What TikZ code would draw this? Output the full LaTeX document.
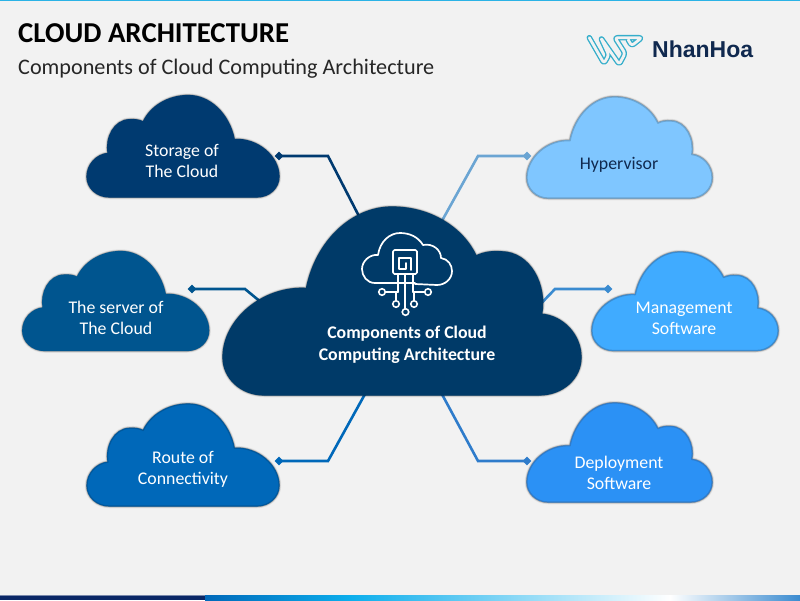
\documentclass[tikz,border=0pt]{standalone}
\usepackage{fontspec}
\setmainfont{Carlito}
\newfontfamily\logofont{Liberation Sans}
\usetikzlibrary{shapes.geometric}
\definecolor{pagebg}{HTML}{F2F2F2}
\definecolor{cStorage}{HTML}{003A70}
\definecolor{cServer}{HTML}{00558F}
\definecolor{cRoute}{HTML}{0068B9}
\definecolor{cCentre}{HTML}{003A68}
\definecolor{cHyper}{HTML}{7FC6FF}
\definecolor{cManage}{HTML}{40ABFF}
\definecolor{cDeploy}{HTML}{2B91F5}
\definecolor{lHyper}{HTML}{6BA5D3}
\definecolor{lManage}{HTML}{3A8BD0}
\definecolor{lDeploy}{HTML}{2F7CCB}
\definecolor{logoInk}{HTML}{10294F}
\definecolor{logoTeal}{HTML}{35AECB}
\definecolor{barNavy}{HTML}{0A2766}
\definecolor{barCyan}{HTML}{0CAEEC}
\definecolor{barTop}{HTML}{2BB3E6}
\newcommand\cloudoutline{(.118,1) .. controls (.05,1) and (0,.91) .. (0,.8)
  .. controls (0,.68) and (.05,.58) .. (.11,.57)
  .. controls (.095,.42) and (.14,.24) .. (.223,.238)
  .. controls (.25,.235) and (.27,.24) .. (.293,.26)
  .. controls (.33,.11) and (.42,0) .. (.528,0)
  .. controls (.64,0) and (.74,.18) .. (.767,.433)
  .. controls (.89,.42) and (1,.6) .. (1,.8)
  .. controls (1,.91) and (.95,1) .. (.885,1) -- cycle}
% #1 x of origin, #2 top, #3 signed width, #4 height, #5 fill, #6 border
\newcommand\cloudblob[6]{%
  \begin{scope}[shift={(#1,#2)},x=#3pt,y=-#4pt,line join=round]
    \draw[black,opacity=.06,line width=4.5pt] \cloudoutline;
    \draw[black,opacity=.14,line width=3pt] \cloudoutline;
    \draw[black,opacity=.25,line width=1.8pt] \cloudoutline;
    \draw[fill=#5,draw=#6,line width=1.2pt] \cloudoutline;
  \end{scope}}
\tikzset{
  conn/.style={line width=2.6pt,line join=miter},
  tipmark/.style={diamond,inner sep=0pt,minimum width=9pt,minimum height=9pt,draw=none},
  label/.style={align=center,text=white,font=\fontsize{17.8}{21}\selectfont,inner sep=0pt},
  iconline/.style={draw=white,line width=1.7pt,line cap=round,line join=round},
  icondot/.style={circle,draw=white,line width=1.6pt,minimum size=6.5pt,inner sep=0pt}
}
\begin{document}
\begin{tikzpicture}[x=1pt,y=-1pt]
\useasboundingbox (0,0) rectangle (800,600);
\fill[pagebg] (0,0) rectangle (800,600);
% top and bottom bars
\fill[barTop] (0,0) rectangle (800,1.3);
\fill[barNavy!55!white] (0,595) rectangle (205,596);
\fill[barNavy] (0,595.6) rectangle (205,600);
\fill[left color=cRoute,right color=barCyan] (205,595) rectangle (350,600);
\fill[left color=barCyan,right color=white] (350,595) rectangle (670,600);
\fill[left color=white,right color=lManage] (670,595) rectangle (800,600);
% titles
\node[anchor=base west,inner sep=0pt,font=\fontsize{28.8}{30}\selectfont\bfseries,text=black] (title) at (18,42) {CLOUD ARCHITECTURE};
\node[anchor=base west,inner sep=0pt,font=\fontsize{22.2}{24}\selectfont,text=black!85] (subtitle) at (18,74) {Components of Cloud Computing Architecture};
% logo
\draw[logoTeal,line width=5.5pt,rounded corners=2.5pt,line join=round,line cap=round]
  (589.3,37.7) -- (604,63.3) -- (608.7,55) -- (600.7,37.7) -- (619.3,64.3) -- (625,53.3) -- (615,37.7) -- (641.7,37.7) -- (631.7,45.7) -- (628.3,40);
\draw[pagebg,line width=2.8pt,rounded corners=2.5pt,line join=round,line cap=round]
  (589.3,37.7) -- (604,63.3) -- (608.7,55) -- (600.7,37.7) -- (619.3,64.3) -- (625,53.3) -- (615,37.7) -- (641.7,37.7) -- (631.7,45.7) -- (628.3,40);
\node[anchor=base west,inner sep=0pt,font=\logofont\bfseries\fontsize{23}{25}\selectfont,text=logoInk] (logo) at (652,57) {NhanHoa};
% connector way points
\coordinate (hubA) at (363,224);
\coordinate (bendA) at (328,156);
\coordinate (hubB) at (262,303);
\coordinate (bendB) at (245,289);
\coordinate (hubC) at (370,385);
\coordinate (bendC) at (328,461);
\coordinate (hubD) at (438,228);
\coordinate (bendD) at (478,156);
\coordinate (hubE) at (530,315);
\coordinate (bendE) at (555,289);
\coordinate (hubF) at (437,385);
\coordinate (bendF) at (478,461);
% outer clouds
\cloudblob{87}{95.5}{192}{101.5}{cStorage}{cStorage}
\cloudblob{22.7}{251.5}{186}{99}{cServer}{cServer}
\cloudblob{87}{404}{192}{102}{cRoute}{cRoute!85!black}
\cloudblob{712}{97}{-185}{101}{cHyper}{lHyper}
\cloudblob{778}{252}{-186}{98.5}{cManage}{lManage}
\cloudblob{712}{403}{-185}{99}{cDeploy}{lDeploy}
% connector ends
\node[tipmark,fill=cStorage] (tipA) at (279,156) {};
\node[tipmark,fill=cServer] (tipB) at (192,289) {};
\node[tipmark,fill=cRoute] (tipC) at (279,461) {};
\node[tipmark,fill=lHyper] (tipD) at (527,156) {};
\node[tipmark,fill=lManage] (tipE) at (608,289) {};
\node[tipmark,fill=lDeploy] (tipF) at (527,461) {};
% connectors
\draw[conn,draw=cStorage] (hubA) -- (bendA) -- (tipA.center);
\draw[conn,draw=cServer] (hubB) -- (bendB) -- (tipB.center);
\draw[conn,draw=cRoute] (hubC) -- (bendC) -- (tipC.center);
\draw[conn,draw=lHyper] (hubD) -- (bendD) -- (tipD.center);
\draw[conn,draw=lManage] (hubE) -- (bendE) -- (tipE.center);
\draw[conn,draw=lDeploy] (hubF) -- (bendF) -- (tipF.center);
% centre cloud
\cloudblob{581}{207}{-358}{188}{cCentre}{cCentre}
% icon
\draw[iconline] (390,283) -- (375,283) .. controls (367,283) and (362,276) .. (362,269)
  .. controls (362,261) and (370,254) .. (378,255)
  .. controls (380,241) and (390,233) .. (400,233)
  .. controls (410,233) and (418,237) .. (423,245)
  .. controls (433,243) and (441,250) .. (441,258)
  .. controls (448,259) and (452,265) .. (452,271)
  .. controls (452,279) and (445,285) .. (437,285) -- (415,284);
\draw[iconline,rounded corners=1.5pt] (393,250) rectangle (417,274);
\draw[iconline] (411,270) -- (411,258) -- (399,258) -- (399,269) -- (406,269) -- (406,263);
\draw[iconline] (398,274) -- (398,292) (405,274) -- (405,309) (413,274) -- (413,292);
\draw[iconline] (389,283) -- (415,283);
\node[icondot] (dotL) at (382,292) {};
\node[icondot] (dotR) at (428,292) {};
\node[icondot] (dotA) at (396,304) {};
\node[icondot] (dotB) at (414,304) {};
\node[icondot] (dotC) at (405.5,312) {};
\draw[iconline] (dotL) -- (398,292);
\draw[iconline] (dotR) -- (413,292);
\draw[iconline] (dotA) -- (396,292);
\draw[iconline] (dotB) -- (414,292);
% labels
\node[label] (storage) at (182,161) {Storage of\\The Cloud};
\node[label] (server) at (116,317.5) {The server of\\The Cloud};
\node[label] (route) at (183,469.5) {Route of\\Connectivity};
\node[label,text=logoInk] (hyper) at (619,165) {Hypervisor};
\node[label] (manage) at (684,318.5) {Management\\Software};
\node[label] (deploy) at (619,472.5) {Deployment\\Software};
\node[label,font=\fontsize{17.8}{22}\selectfont\bfseries] (centre) at (407,344.5) {Components of Cloud\\Computing Architecture};
\end{tikzpicture}
\end{document}
